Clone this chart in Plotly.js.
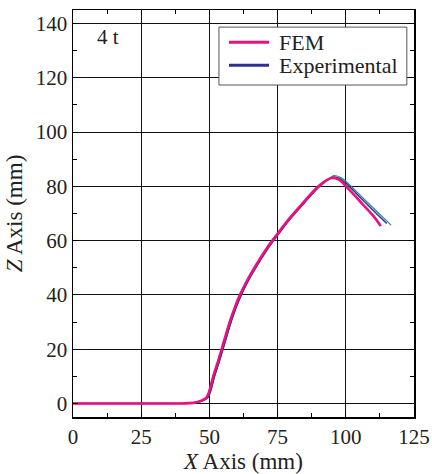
<!DOCTYPE html>
<html>
<head>
<meta charset="utf-8">
<script src="https://cdn.plot.ly/plotly-3.0.1.min.js"></script>
<style>html,body{margin:0;padding:0;background:#fff;}#chart{width:432px;height:474px;}</style>
</head>
<body>
<div id="chart"></div>
<script>
const femX = [0, 10, 20, 30, 40, 44, 46.5, 48, 49, 50, 51.4, 53.3, 55.5, 57.6, 59.4, 61.2, 63.3, 65.5, 71.6, 75, 79.5, 84.4, 89.3, 91.8, 94.8, 97.3, 100.9, 105, 110, 112.8];
const femZ = [0, 0, 0, 0, 0, 0.2, 0.8, 1.5, 2.3, 4.7, 10, 16, 23.5, 30.5, 35.6, 40, 44.3, 48.3, 58, 62.6, 68.4, 74, 79.4, 81.5, 83.1, 82.6, 79.2, 74.7, 69.2, 65.4];
const expX = [0, 10, 20, 30, 40, 44, 47, 48.5, 49.5, 50.5, 51.9, 53.8, 56, 58.1, 59.9, 61.7, 63.8, 66, 72.1, 75.5, 80, 84.9, 89.8, 92.3, 95.3, 97.6, 100, 105, 110, 115];
const expZ = [0, 0, 0, 0, 0, 0.2, 0.8, 1.5, 2.3, 4.7, 10, 16, 23.5, 30.5, 35.6, 40, 44.3, 48.3, 58, 62.6, 68.4, 74, 79.4, 81.6, 83.4, 82.9, 81.2, 76.2, 71.2, 66.3];
const exp2X = [0, 10, 20, 30, 40, 44, 47, 48.5, 49.5, 50.5, 51.9, 53.8, 56, 58.1, 59.9, 61.7, 63.8, 66, 72.1, 75.5, 80, 84.9, 89.8, 92.3, 95.8, 98, 100, 105, 110, 116.6];
const exp2Z = [0, 0, 0, 0, 0, 0.2, 0.8, 1.5, 2.3, 4.7, 10, 16, 23.5, 30.5, 35.6, 40, 44.4, 48.5, 58.3, 63, 68.9, 74.6, 80, 81.8, 84, 83.3, 81.9, 77, 72.1, 65.7];
const seriesNames = ["FEM", "Experimental"];
const seriesColors = ["#e8117f", "#2e3192"];
const xTicks = [0, 25, 50, 75, 100, 125];
const yTicks = [0, 20, 40, 60, 80, 100, 120, 140];
const labelText = "4 t";

const serif = "Liberation Serif, Times New Roman, serif";
const traces = [
  {x: exp2X, y: exp2Z, mode: "lines", line: {color: "#2b8a7e", width: 1.2, shape: "spline"}, showlegend: false, hoverinfo: "skip"},
  {x: expX, y: expZ, name: seriesNames[1], mode: "lines", line: {color: seriesColors[1], width: 1.5, shape: "spline"}, showlegend: false},
  {x: femX, y: femZ, name: seriesNames[0], mode: "lines", line: {color: seriesColors[0], width: 2.6, shape: "spline"}, showlegend: false}
];
const axisCommon = {
  showline: true, linecolor: "#000", linewidth: 1.5, mirror: "ticks",
  ticks: "inside", ticklen: 5, tickcolor: "#000", tickwidth: 1,
  showgrid: true, gridcolor: "#111", gridwidth: 1, zeroline: false,
  tickfont: {family: serif, size: 21, color: "#222"}
};

// manual legend box (paper coordinates)
const legBox = {x0: 0.428, x1: 0.979, y0: 0.8157, y1: 0.958};
const legRows = [0.921, 0.864];
const shapes = [
  {type: "rect", xref: "paper", yref: "paper", x0: legBox.x0, x1: legBox.x1, y0: legBox.y0, y1: legBox.y1,
   line: {color: "#555", width: 1}, fillcolor: "#fff", layer: "above"}
];
const annotations = [{
  x: 12.8, y: 135, xref: "x", yref: "y", text: labelText, showarrow: false,
  font: {family: serif, size: 21, color: "#222"}
}];
seriesNames.forEach((n, i) => {
  shapes.push({type: "line", xref: "paper", yref: "paper", x0: 0.4575, x1: 0.5748, y0: legRows[i], y1: legRows[i],
    line: {color: seriesColors[i], width: 3}, layer: "above"});
  annotations.push({xref: "paper", yref: "paper", x: 0.598, y: legRows[i], xanchor: "left", yanchor: "middle",
    text: n, showarrow: false, font: {family: serif, size: 22, color: "#222"}});
});

const layout = {
  width: 432, height: 474,
  margin: {l: 73, r: 18, t: 10, b: 57},
  paper_bgcolor: "#fff", plot_bgcolor: "#fff",
  showlegend: false,
  xaxis: Object.assign({}, axisCommon, {
    range: [0, 125], tickvals: xTicks, ticktext: xTicks.map(String),
    minor: {dtick: 12.5, tick0: 0, ticks: "inside", ticklen: 4, tickcolor: "#000", showgrid: false},
    title: {text: "<i>X</i> Axis (mm)", font: {family: serif, size: 23, color: "#222"}, standoff: 6}
  }),
  yaxis: Object.assign({}, axisCommon, {
    range: [-5, 145], tickvals: yTicks, ticktext: yTicks.map(String),
    minor: {dtick: 10, tick0: 0, ticks: "inside", ticklen: 4, tickcolor: "#000", showgrid: false},
    title: {text: "<i>Z</i> Axis (mm)", font: {family: serif, size: 23, color: "#222"}, standoff: 6}
  }),
  shapes: shapes,
  annotations: annotations
};
Plotly.newPlot("chart", traces, layout, {displayModeBar: false, staticPlot: true});
</script>
</body>
</html>
